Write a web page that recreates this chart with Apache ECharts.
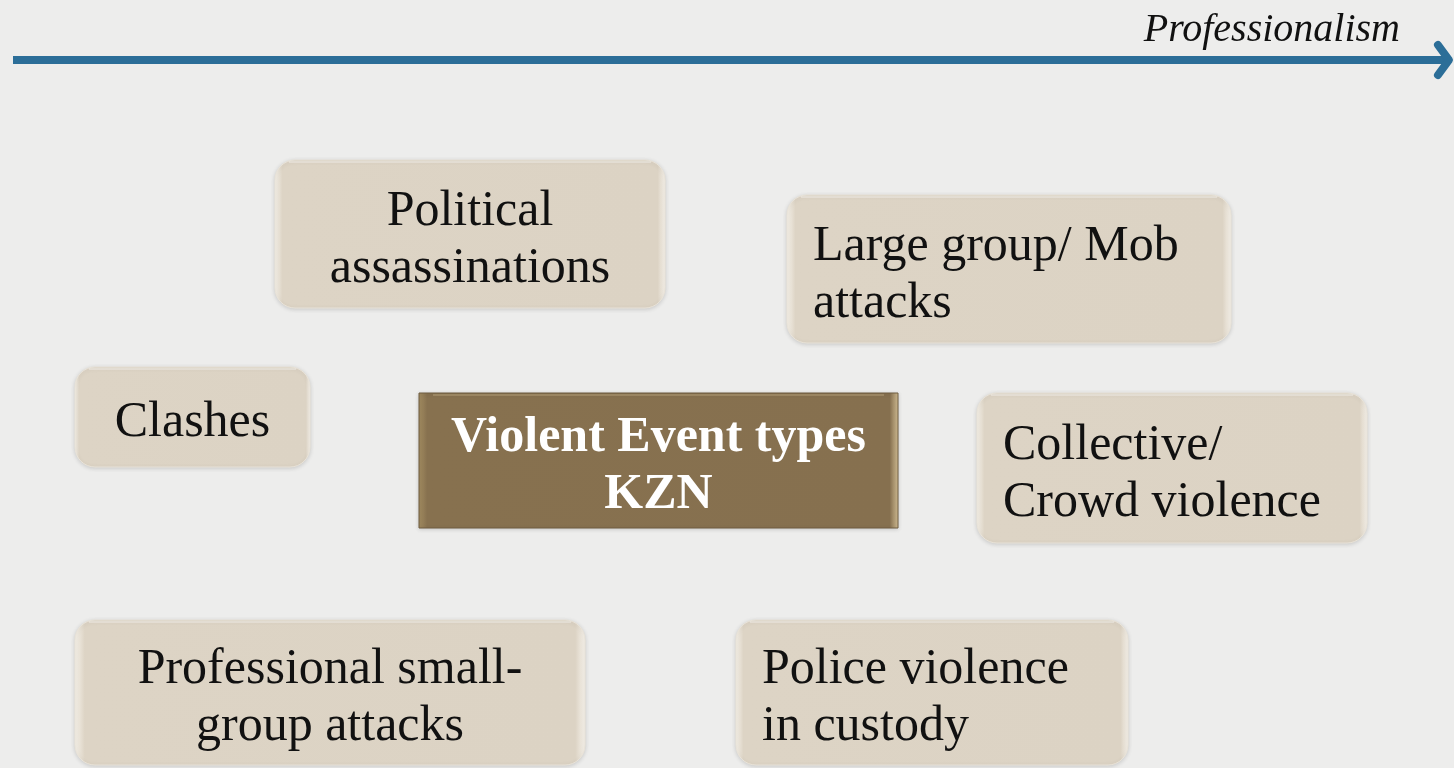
<!DOCTYPE html>
<html>
<head>
<meta charset="utf-8">
<script src="https://cdn.jsdelivr.net/npm/echarts@6/dist/echarts.min.js"></script>
<style>
  html, body { margin: 0; padding: 0; background: #ededec; }
  #main { width: 1454px; height: 768px; }
</style>
</head>
<body>
<div id="main"></div>
<script>
// box texts, in drawing order
var boxLabels = [
  'Political\nassassinations',
  'Large group/ Mob\nattacks',
  'Clashes',
  'Violent Event types\nKZN',
  'Collective/\nCrowd violence',
  'Professional small-\ngroup attacks',
  'Police violence\nin custody'
];
// which box is the central one
var boxKind = ['plain', 'plain', 'plain', 'centre', 'plain', 'plain', 'plain'];
var boxAlign = ['center', 'left', 'center', 'center', 'left', 'center', 'left'];
// box edges in page units
var boxLeft = [275, 787, 75, 419, 977, 75, 736];
var boxTop = [160, 195, 367, 393, 393, 620, 620];
var boxRight = [665, 1231, 310, 898, 1367, 585, 1128];
var boxBottom = [308, 343, 467, 528, 543, 765, 765];

var axisTitle = 'Professionalism';
var arrowStart = 13;
var arrowEnd = 1449;
var arrowY = 60;

var chartDom = document.getElementById('main');
var myChart = echarts.init(chartDom);

var boxData = boxLabels.map(function (l, i) {
  return [boxLeft[i], boxTop[i], boxRight[i], boxBottom[i], i];
});

function renderBox(params, api) {
  var i = api.value(4);
  var p0 = api.coord([api.value(0), api.value(1)]);
  var p1 = api.coord([api.value(2), api.value(3)]);
  var w = p1[0] - p0[0], h = p1[1] - p0[1];
  var centre = boxKind[i] === 'centre';
  var fill;
  if (centre) {
    fill = new echarts.graphic.LinearGradient(0, 0, 1, 0, [
      {offset: 0, color: '#a48d62'},
      {offset: 0.018, color: '#87714f'},
      {offset: 0.982, color: '#86704f'},
      {offset: 1, color: '#d4bf95'}
    ]);
  } else {
    fill = new echarts.graphic.LinearGradient(0, 0, 1, 0, [
      {offset: 0, color: '#f6f2ea'},
      {offset: 0.02, color: '#ddd4c5'},
      {offset: 0.98, color: '#dcd3c4'},
      {offset: 1, color: '#f7f3ec'}
    ]);
  }
  var align = boxAlign[i];
  var tx = align === 'left' ? p0[0] + 26 : p0[0] + w / 2;
  var children = [{
    type: 'rect',
    shape: {x: p0[0], y: p0[1], width: w, height: h, r: centre ? 0 : 20},
    style: {
      fill: fill,
      stroke: centre ? '#6e5c40' : '#e9e3d8',
      lineWidth: 1,
      shadowBlur: 4,
      shadowOffsetY: 1,
      shadowColor: 'rgba(0,0,0,0.14)'
    }
  }, {
    type: 'rect',
    shape: {x: p0[0] + 14, y: p0[1] + 1, width: w - 28, height: 2},
    style: {fill: centre ? 'rgba(190,170,130,0.4)' : 'rgba(255,255,255,0.3)'}
  }, {
    type: 'text',
    style: {
      text: boxLabels[i],
      x: tx,
      y: p0[1] + h / 2 + 6,
      align: align,
      verticalAlign: 'middle',
      fontFamily: 'Liberation Serif',
      fontSize: 50,
      fontWeight: centre ? 'bold' : 'normal',
      lineHeight: 57,
      fill: centre ? '#ffffff' : '#111111'
    }
  }];
  return {type: 'group', children: children};
}

function renderArrow(params, api) {
  var a = api.coord([api.value(0), api.value(2)]);
  var b = api.coord([api.value(1), api.value(2)]);
  return {
    type: 'group',
    children: [{
      type: 'line',
      shape: {x1: a[0], y1: a[1], x2: b[0] - 3, y2: b[1]},
      style: {stroke: '#2c6e98', lineWidth: 8}
    }, {
      type: 'polyline',
      shape: {points: [[b[0] - 11, b[1] - 15], [b[0], b[1]], [b[0] - 11, b[1] + 15]]},
      style: {stroke: '#2c6e98', lineWidth: 8, fill: null, lineCap: 'round', lineJoin: 'round'}
    }, {
      type: 'text',
      style: {
        text: axisTitle,
        x: b[0] - 49,
        y: b[1] - 30,
        align: 'right',
        verticalAlign: 'middle',
        fontFamily: 'Liberation Serif',
        fontStyle: 'italic',
        fontSize: 40,
        fill: '#111111'
      }
    }]
  };
}

var option = {
  backgroundColor: '#ededec',
  animation: false,
  grid: {left: 0, right: 0, top: 0, bottom: 0},
  xAxis: {type: 'value', min: 0, max: 1454, show: false},
  yAxis: {type: 'value', min: 0, max: 768, inverse: true, show: false},
  series: [
    {
      type: 'custom',
      renderItem: renderArrow,
      data: [[arrowStart, arrowEnd, arrowY]],
      silent: true
    },
    {
      type: 'custom',
      renderItem: renderBox,
      data: boxData,
      silent: true
    }
  ]
};
myChart.setOption(option);
</script>
</body>
</html>
